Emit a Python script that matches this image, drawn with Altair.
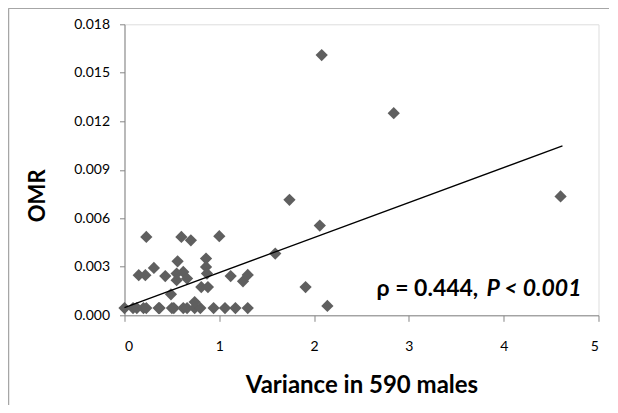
import altair as alt
import pandas as pd

# scatter data: variance in 590 males vs OMR
var_x = [0.0, 0.09, 0.13, 0.20, 0.23, 0.36, 0.37, 0.50, 0.52, 0.62, 0.66, 0.74, 0.80, 0.94, 1.06, 1.17, 1.30,
         0.74, 0.49,
         0.15, 0.22, 0.31, 0.43, 0.55, 0.56, 0.62, 0.55, 0.66,
         0.81, 0.88, 0.86, 0.86, 0.87, 1.12, 1.25, 1.30,
         0.23, 0.60, 0.70, 1.00,
         1.59, 1.74, 1.91, 2.06, 2.08, 2.14, 2.84, 4.60]
omr_y = [0.00045, 0.00045, 0.00045, 0.00045, 0.00045, 0.00045, 0.00045, 0.00045, 0.00045, 0.00045, 0.00045,
         0.00045, 0.00045, 0.00045, 0.00045, 0.00045, 0.00045,
         0.00082, 0.0013,
         0.00248, 0.00248, 0.00293, 0.00243, 0.00258, 0.00334, 0.00268, 0.00217, 0.00227,
         0.00175, 0.00175, 0.00351, 0.00299, 0.00258, 0.00243, 0.0021, 0.0025,
         0.00485, 0.00485, 0.00464, 0.00489,
         0.00382, 0.00714, 0.00175, 0.00555, 0.0161, 0.00058, 0.0125, 0.00735]

# linear trend line endpoints
trend_x = [0.0, 4.62]
trend_y = [0.00048, 0.01048]

x_ticks = [0, 1, 2, 3, 4, 5]
y_ticks = [0.0, 0.003, 0.006, 0.009, 0.012, 0.015, 0.018]

FONT = "Lato"
W, H = 474, 291

pts = pd.DataFrame({"x": var_x, "y": omr_y})
trend = pd.DataFrame({"x": trend_x, "y": trend_y})

xscale = alt.Scale(domain=[0, 5], nice=False, zero=False)
yscale = alt.Scale(domain=[0, 0.018], nice=False, zero=False)

xaxis = alt.Axis(values=x_ticks, format="d", title="Variance in 590 males",
                 grid=False, domainColor="#868686", tickColor="#868686", tickSize=6,
                 labelFont=FONT, labelFontSize=14, labelColor="#000000", labelPadding=18,
                 titleFont=FONT, titleFontSize=24, titleFontWeight="bold", titleColor="#000000",
                 titleY=70, titleBaseline="middle")
yaxis = alt.Axis(values=y_ticks, format=".3f", title="OMR",
                 grid=False, domainColor="#868686", tickColor="#868686", tickSize=5,
                 labelFont=FONT, labelFontSize=14, labelColor="#000000", labelPadding=10,
                 titleFont=FONT, titleFontSize=22, titleFontWeight="bold", titleColor="#000000",
                 titleX=-87, titleY=171, titleBaseline="middle", titleAngle=-90)

points = alt.Chart(pts).mark_point(shape="diamond", filled=True, size=150, color="#5f5f5f", opacity=1).encode(
    x=alt.X("x:Q", scale=xscale, axis=xaxis),
    y=alt.Y("y:Q", scale=yscale, axis=yaxis),
)

line = alt.Chart(trend).mark_line(color="#000000", strokeWidth=1.3).encode(
    x=alt.X("x:Q", scale=xscale),
    y=alt.Y("y:Q", scale=yscale),
)

txt1 = alt.Chart(pd.DataFrame({"t": ["ρ = 0.444,"]})).mark_text(
    font=FONT, fontSize=23, fontWeight="bold", align="left", baseline="alphabetic", color="#000000"
).encode(x=alt.value(252), y=alt.value(272), text="t:N")

txt2 = alt.Chart(pd.DataFrame({"t": ["P < 0.001"]})).mark_text(
    font=FONT, fontSize=23, fontWeight="bold", fontStyle="italic", align="right", baseline="alphabetic",
    color="#000000"
).encode(x=alt.value(457), y=alt.value(272), text="t:N")

border_left = alt.Chart(pd.DataFrame({"a": [0]})).mark_rule(color="#a6a6a6", strokeWidth=1.5).encode(
    x=alt.value(-116), y=alt.value(-16), y2=alt.value(400)
)
border_top = alt.Chart(pd.DataFrame({"a": [0]})).mark_rule(color="#a6a6a6", strokeWidth=1.5).encode(
    x=alt.value(-116), x2=alt.value(500), y=alt.value(-16)
)

chart = alt.layer(border_left, border_top, points, line, txt1, txt2).properties(
    width=W, height=H,
    padding={"left": 116.5, "top": 16.3, "right": 10, "bottom": 90},
    autosize=alt.AutoSizeParams(type="none"),
).configure_view(stroke=None).configure(background="#ffffff")

chart.save("out.html", embed_options={"renderer": "svg", "actions": False})
